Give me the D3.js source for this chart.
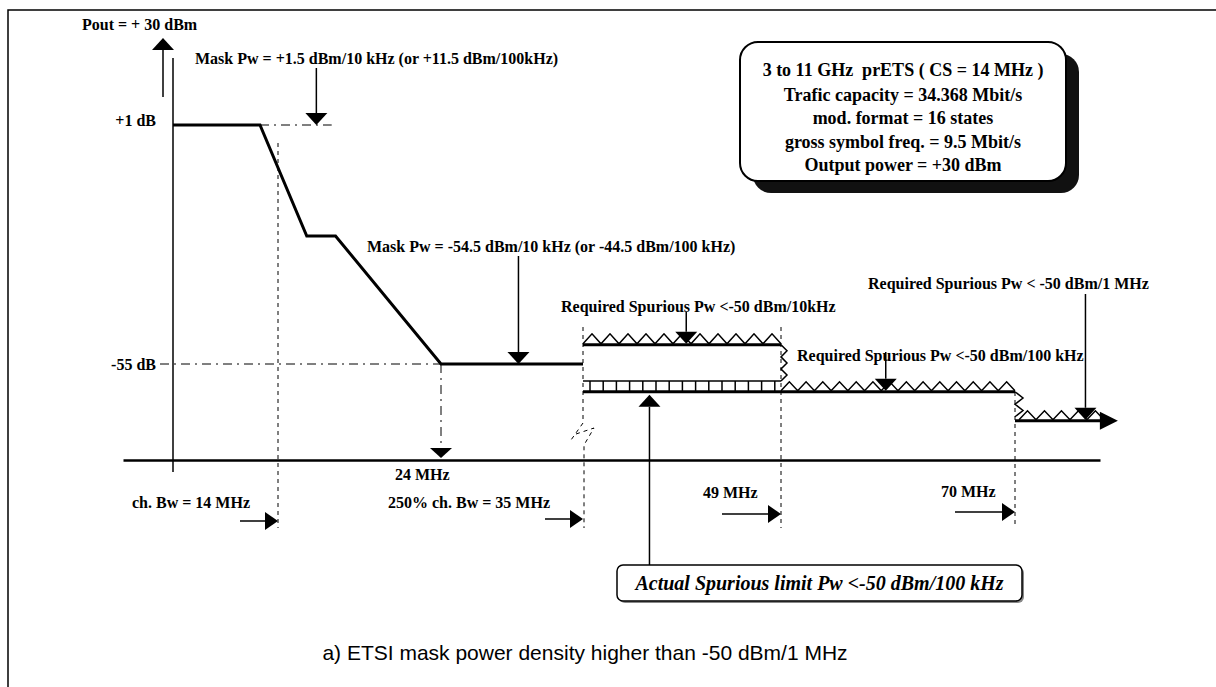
<!DOCTYPE html>
<html lang="en">
<head>
    <meta charset="UTF-8">
    <title>ETSI mask power density</title>
    <style>
        body{ margin:0; background:#fff; }
        svg{ display:block; background:#fff; }
        .lbl{
            font-family: "Liberation Serif", "Times New Roman", serif;
            font-weight: bold;
            font-size: 16px;
            fill: #000;
            white-space: pre;
        }
        .info{ font-size: 18px; }
        .mask{ fill:none; stroke:#000; stroke-width:3px; stroke-linejoin:miter; }
        .thin{ fill:none; stroke:#000; stroke-width:1.5px; }
        .dot{ fill:none; stroke:#000; stroke-width:1px; stroke-dasharray:4 4; }
        .dashdot{ fill:none; stroke:#000; stroke-width:1px; stroke-dasharray:9 5 2 5; }
        .head{ fill:#000; stroke:none; }
        .caption{
            font-family: "Liberation Sans", Arial, sans-serif;
            font-size: 21px;
            fill:#000;
        }
        .actual{
            font-family: "Liberation Serif", "Times New Roman", serif;
            font-style: italic;
            font-weight: bold;
            font-size: 20px;
        }
    </style>
    <script src="https://cdn.jsdelivr.net/npm/d3@7"></script>
</head>
<body>
<script>
    // ---- values (offset frequency in MHz, level in dB) ----
    const maskF  = [0, 5.8, 10, 13, 24, 35];
    const maskDb = [1, 1, -25, -25, -55, -55];

    const levelDb   = [1, -55];
    const levelText = ["+1 dB", "-55 dB"];

    const edgeF    = [7, 24, 35, 49, 70];
    const edgeText = ["ch. Bw = 14 MHz", "24 MHz", "250% ch. Bw = 35 MHz", "49 MHz", "70 MHz"];

    const spurFrom   = [35, 49, 70];
    const spurTo     = [49, 70, 79.2];
    const spurDb     = [-50.5, -61.5, -68.3];
    const spurArrowF = [42.3, 58.4, 76.3];
    const spurText   = ["Required Spurious Pw <-50 dBm/10kHz",
                        "Required Spurious Pw <-50 dBm/100 kHz",
                        "Required Spurious Pw < -50 dBm/1 MHz"];

    const maskArrowF  = [11, 30];
    const maskArrowDb = [1, -55];
    const maskText    = ["Mask Pw = +1.5 dBm/10 kHz (or +11.5 dBm/100kHz)",
                         "Mask Pw = -54.5 dBm/10 kHz (or -44.5 dBm/100 kHz)"];

    const combDb     = -59;
    const actualF    = 39.7;
    const actualDb   = -61.5;
    const actualText = "Actual Spurious limit Pw <-50 dBm/100 kHz";

    const infoLines = ["3 to 11 GHz  prETS ( CS = 14 MHz )",
                       "Trafic capacity = 34.368 Mbit/s",
                       "mod. format = 16 states",
                       "gross symbol freq. = 9.5 Mbit/s",
                       "Output power = +30 dBm"];
    const poutText = "Pout = + 30 dBm";
    const caption  = "a) ETSI mask power density higher than -50 dBm/1 MHz";

    // ---- page ----
    const width = 1216, height = 687;
    const svg = d3.select("body").append("svg")
        .attr("width", width).attr("height", height)
        .attr("viewBox", `0,0,${width},${height}`);

    // schematic, piecewise frequency axis (the plot has a scale break at 35 MHz)
    const x = d3.scaleLinear()
        .domain([-3.3, 0, 7, 24, 35, 49, 70, 77.6])
        .range([123, 173, 278, 441, 583, 781, 1015, 1100]);
    const y = d3.scaleLinear()
        .domain([1, -55])
        .range([125, 364]);

    const axisY = 460;
    const dropBottom = 528;

    // frame (top + left only)
    svg.append("path").attr("class", "thin")
        .attr("d", `M8,${height} V10 H${width}`);

    // helpers for the arrows
    function arrowDown(g, px, y1, y2, hw = 11, hl = 12){
        g.append("path").attr("class","thin").attr("d",`M${px},${y1} V${y2 - hl}`);
        g.append("path").attr("class","head").attr("d",`M${px-hw},${y2-hl} H${px+hw} L${px},${y2} Z`);
    }
    function arrowUp(g, px, y1, y2, hw = 11, hl = 12){
        g.append("path").attr("class","thin").attr("d",`M${px},${y2} V${y1 + hl}`);
        g.append("path").attr("class","head").attr("d",`M${px-hw},${y1+hl} H${px+hw} L${px},${y1} Z`);
    }
    function arrowRight(g, x1, x2, py, hw = 9, hl = 13){
        g.append("path").attr("class","thin").attr("stroke-width",2).attr("d",`M${x1},${py} H${x2-hl}`);
        g.append("path").attr("class","head").attr("d",`M${x2-hl},${py-hw} V${py+hw} L${x2},${py} Z`);
    }
    function zigzag(x0, x1, py, w, h){
        const n = Math.max(1, Math.round((x1 - x0) / w)), s = (x1 - x0) / n;
        let d = `M${x0},${py}`;
        for (let i = 0; i < n; i++) d += ` L${x0 + (i + .5) * s},${py - h} L${x0 + (i + 1) * s},${py}`;
        return d;
    }
    function vzig(px, y0, y1, n, w){
        const s = (y1 - y0) / n;
        let d = `M${px},${y0}`;
        for (let i = 0; i < n; i++) d += ` L${px + w},${y0 + (i + .5) * s} L${px},${y0 + (i + 1) * s}`;
        return d;
    }

    const gA = svg.append("g");

    // ---- axes ----
    svg.append("g")
        .attr("transform", `translate(0,${axisY})`)
        .call(d3.axisBottom(x).tickValues([]).tickSizeOuter(0))
        .select(".domain").attr("stroke-width", 2.5);

    gA.append("path").attr("class","thin").attr("stroke-width",2)
        .attr("d", `M${x(0)},58 V${axisY + 12}`);

    const yAx = svg.append("g")
        .attr("transform", `translate(${x(0)},0)`)
        .call(d3.axisLeft(y).tickValues(levelDb).tickFormat((d,i)=>levelText[i]).tickSize(0).tickPadding(17));
    yAx.select(".domain").remove();
    yAx.selectAll("text").attr("class","lbl").attr("font-family",null).attr("font-size",null)
        .attr("dy",(d,i)=> i === 0 ? "0.05em" : "0.35em");

    // Pout arrow + label
    arrowUp(gA, 163, 38, 97);
    svg.append("text").attr("class","lbl").attr("x",82).attr("y",30).text(poutText);

    // ---- reference lines ----
    gA.append("path").attr("class","dashdot").attr("d",`M${x(5.8)},${y(1)} H${x(12.6)}`);
    gA.append("path").attr("class","dashdot").attr("d",`M160,${y(-55)} H${x(24)}`);

    // dotted edge lines
    gA.append("path").attr("class","dot").attr("d",`M${x(7)},143 V${dropBottom}`);
    gA.append("path").attr("class","dot").attr("d",`M${x(35)},327 V423 L${x(35)-12},440 M${x(35)-7},434 L${x(35)+11},428 L${x(35)+1},445 V${dropBottom}`);
    gA.append("path").attr("class","dot").attr("d",`M${x(49)},327 V${dropBottom}`);
    gA.append("path").attr("class","dot").attr("d",`M${x(70)},392 V${dropBottom}`);

    // 24 MHz drop line + arrow
    gA.append("path").attr("class","dashdot").attr("d",`M${x(24)},${y(-55)} V${axisY - 12}`);
    gA.append("path").attr("class","head").attr("d",`M${x(24)-11},${axisY-12} H${x(24)+11} L${x(24)},${axisY-2} Z`);

    // ---- mask ----
    const maskLine = d3.line().x(d=>x(d[0])).y(d=>y(d[1]));
    svg.append("path").attr("class","mask")
        .attr("d", maskLine(d3.zip(maskF, maskDb)));

    // mask annotations
    const maskTextPos = [[195, 64], [367, 252]];
    maskText.forEach((t,i)=>{
        svg.append("text").attr("class","lbl").attr("x",maskTextPos[i][0]).attr("y",maskTextPos[i][1]).text(t);
        arrowDown(gA, x(maskArrowF[i]), maskTextPos[i][1] + 4, y(maskArrowDb[i]));
    });

    // ---- spurious limits ----
    const sp = svg.append("g");
    // band 1 (10 kHz): upper line with triangles
    sp.append("path").attr("class","mask").attr("d",`M${x(spurFrom[0])},${y(spurDb[0])} H${x(spurTo[0])}`);
    sp.append("path").attr("class","thin").attr("stroke-width",1.3)
        .attr("d", zigzag(x(spurFrom[0]), x(spurTo[0]), y(spurDb[0]) - 1, 18, 10));
    sp.append("path").attr("class","thin").attr("stroke-width",1.5)
        .attr("d", vzig(x(spurTo[0]), y(spurDb[0]), y(combDb), 3, 6));

    // comb (actual limit)
    sp.append("path").attr("class","thin").attr("stroke-width",2)
        .attr("d",`M${x(spurFrom[0])},${y(combDb)} H${x(spurTo[0])}`);
    d3.range(x(spurFrom[0]) + 7, x(spurTo[0]), 13.2).forEach(px=>{
        sp.append("path").attr("class","thin").attr("stroke-width",1.5)
            .attr("d",`M${px},${y(combDb)} V${y(actualDb)}`);
    });
    // band 2 (100 kHz) line, also the actual limit under band 1
    sp.append("path").attr("class","mask").attr("d",`M${x(spurFrom[0])},${y(spurDb[1])} H${x(spurTo[1])}`);
    sp.append("path").attr("class","thin").attr("stroke-width",1.3)
        .attr("d", zigzag(x(spurFrom[1]), x(spurTo[1]), y(spurDb[1]) - 1, 17, 9));
    sp.append("path").attr("class","thin").attr("stroke-width",1.5)
        .attr("d", vzig(x(spurTo[1]), y(spurDb[1]), y(spurDb[2]) - 4, 2, 8));
    // band 3 (1 MHz)
    sp.append("path").attr("class","mask").attr("d",`M${x(spurFrom[2])},${y(spurDb[2])} H${x(spurTo[2]) - 14}`);
    sp.append("path").attr("class","head")
        .attr("d",`M${x(spurTo[2])-18},${y(spurDb[2])-9} L${x(spurTo[2])},${y(spurDb[2])} L${x(spurTo[2])-18},${y(spurDb[2])+9} Z`);
    sp.append("path").attr("class","thin").attr("stroke-width",1.3)
        .attr("d", zigzag(x(spurFrom[2]) + 4, x(spurTo[2]) - 14, y(spurDb[2]) - 1, 17, 9));

    // spurious labels + arrows
    const spurTextPos = [[561, 312], [797, 361], [868, 289]];
    const spurArrowTop = [312, 352, 294];
    spurText.forEach((t,i)=>{
        svg.append("text").attr("class","lbl").attr("x",spurTextPos[i][0]).attr("y",spurTextPos[i][1]).text(t);
        arrowDown(gA, x(spurArrowF[i]), spurArrowTop[i], y(spurDb[i]) - 1);
    });

    // ---- frequency edge labels / arrows ----
    const edgeTextPos = [[132, 508], [395, 480], [388, 508], [703, 498], [941, 497]];
    const edgeArrow = [[240, 521], null, [545, 519], [722, 514], [955, 512]];
    edgeText.forEach((t,i)=>{
        svg.append("text").attr("class","lbl").attr("x",edgeTextPos[i][0]).attr("y",edgeTextPos[i][1]).text(t);
        if (edgeArrow[i]) arrowRight(gA, edgeArrow[i][0], x(edgeF[i]), edgeArrow[i][1]);
    });

    // ---- actual spurious limit box ----
    const box = {x0: 617, x1: 1022, y0: 565, y1: 601};
    arrowUp(gA, x(actualF), y(actualDb) + 3, box.y0);
    svg.append("rect").attr("x",box.x0 + 2).attr("y",box.y0 + 2)
        .attr("width",box.x1 - box.x0).attr("height",box.y1 - box.y0).attr("rx",6)
        .attr("fill","#888");
    svg.append("rect").attr("x",box.x0).attr("y",box.y0)
        .attr("width",box.x1 - box.x0).attr("height",box.y1 - box.y0).attr("rx",6)
        .attr("fill","#fff").attr("stroke","#000").attr("stroke-width",1.5);
    svg.append("text").attr("class","actual")
        .attr("x",(box.x0 + box.x1) / 2).attr("y",box.y0 + 25)
        .attr("text-anchor","middle").text(actualText);

    // ---- info box ----
    const ib = {x0: 740, x1: 1066, y0: 42, y1: 181};
    svg.append("rect").attr("x",ib.x0 + 13).attr("y",ib.y0 + 12)
        .attr("width",ib.x1 - ib.x0).attr("height",ib.y1 - ib.y0).attr("rx",18).attr("fill","#111");
    svg.append("rect").attr("x",ib.x0).attr("y",ib.y0)
        .attr("width",ib.x1 - ib.x0).attr("height",ib.y1 - ib.y0).attr("rx",18)
        .attr("fill","#fff").attr("stroke","#000").attr("stroke-width",2);
    svg.append("g").selectAll("text").data(infoLines).enter().append("text")
        .attr("class","lbl info")
        .attr("x",(ib.x0 + ib.x1) / 2)
        .attr("y",(d,i)=> i === 0 ? 76 : 101 + (i - 1) * 23.3)
        .attr("text-anchor","middle")
        .text(d=>d);

    // ---- caption ----
    svg.append("text").attr("class","caption")
        .attr("x",585).attr("y",660).attr("text-anchor","middle").text(caption);
</script>
</body>
</html>
